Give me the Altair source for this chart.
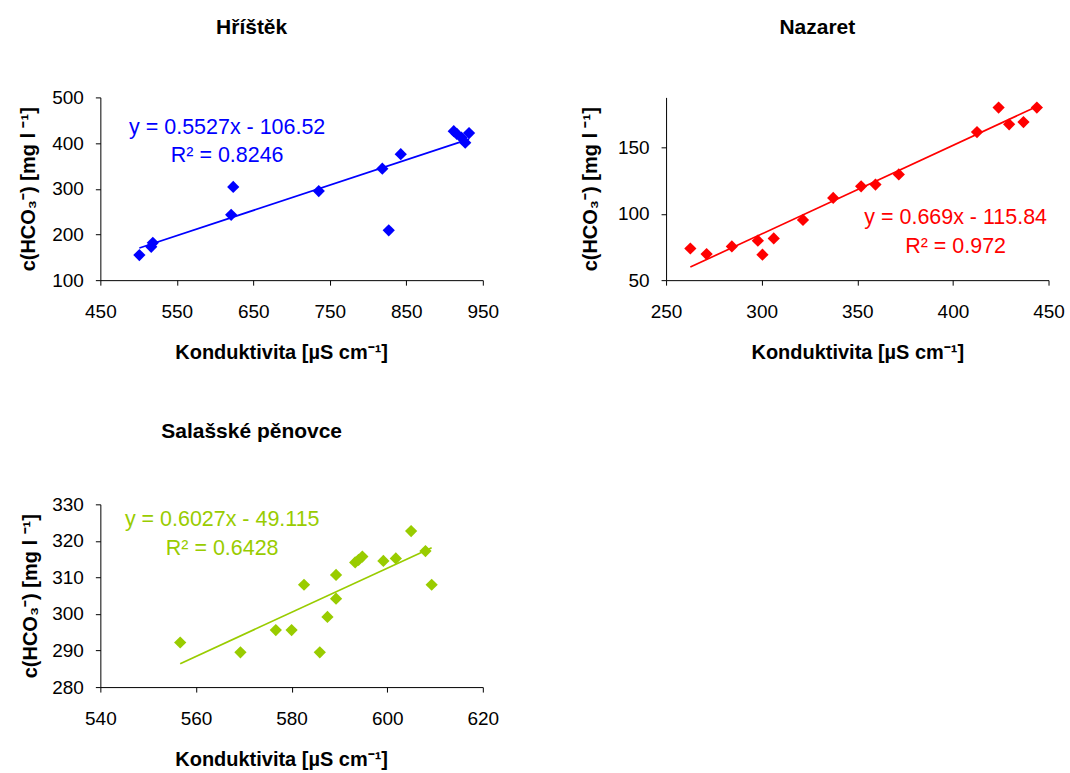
import altair as alt
import pandas as pd

# ---------------- data ----------------
h_x = [501, 516.5, 518.6, 621, 623.7, 735.5, 818.6, 827, 842.7, 912, 916, 922, 927, 932]
h_y = [155, 173, 181.6, 243, 304, 295, 344, 209, 375.7, 426, 420, 412, 401, 422]
h_slope, h_icpt = 0.5527, -106.52
h_eq = "y = 0.5527x - 106.52"
h_r2 = "R² = 0.8246"

n_x = [262.7, 271.2, 284.4, 298, 300.4, 306.3, 321.6, 337.4, 352, 359.5, 371.7, 412.6, 423.9, 429.4, 436.9, 443.9]
n_y = [73.9, 69.7, 75.5, 79.8, 69.2, 81.5, 95.5, 112.1, 120.9, 122.2, 129.8, 161.8, 180.3, 167.7, 169.4, 180.3]
n_slope, n_icpt = 0.669, -115.84
n_eq = "y = 0.669x - 115.84"
n_r2 = "R² = 0.972"

s_x = [556.7, 569.3, 576.7, 580, 582.6, 585.9, 587.5, 589.3, 589.3, 593.3, 594, 594.8, 599.2, 601.8, 605, 608, 609.3]
s_y = [292.2, 289.5, 295.6, 295.6, 308, 289.5, 299.2, 304.2, 310.7, 314.1, 314.8, 315.7, 314.5, 315.2, 322.7, 317.2, 308]
s_slope, s_icpt = 0.6027, -49.115
s_eq = "y = 0.6027x - 49.115"
s_r2 = "R² = 0.6428"

titles = ["Hříštěk", "Nazaret", "Salašské pěnovce"]
x_title = "Konduktivita [µS cm⁻¹]"
y_title = "c(HCO₃⁻) [mg l ⁻¹]"

h_xticks = [450, 550, 650, 750, 850, 950]
h_yticks = [100, 200, 300, 400, 500]
n_xticks = [250, 300, 350, 400, 450]
n_yticks = [50, 100, 150]
s_xticks = [540, 560, 580, 600, 620]
s_yticks = [280, 290, 300, 310, 320, 330]

FONT = "Liberation Sans"
W, H = 383, 183


def panel(xs, ys, slope, icpt, eq, r2, title, color, xdom, ydom, xticks, yticks,
          eqx, eqy, r2y, t_offset, ytitle_x, xtitle_x):
    pts = pd.DataFrame({"x": xs, "y": ys})
    lo, hi = min(xs), max(xs)
    trend = pd.DataFrame({"x": [lo, hi], "y": [slope * lo + icpt, slope * hi + icpt]})
    xsc = alt.Scale(domain=xdom, nice=False, zero=False)
    ysc = alt.Scale(domain=ydom, nice=False, zero=False)
    xax = alt.Axis(values=xticks, title=x_title, labelPadding=32.5, labelBaseline="alphabetic",
                   labelFlush=False, labelOverlap=False, titleBaseline="alphabetic",
                   titleX=xtitle_x, titleY=78.5)
    yax = alt.Axis(values=yticks, title=y_title, labelPadding=12, labelFlush=False,
                   labelOverlap=False, titleBaseline="alphabetic", titleAngle=270,
                   titleX=ytitle_x)
    base_pts = alt.Chart(pts).mark_point(shape="diamond", filled=True, size=150, opacity=1,
                                         color=color).encode(
        x=alt.X("x:Q", scale=xsc, axis=xax),
        y=alt.Y("y:Q", scale=ysc, axis=yax),
    )
    line = alt.Chart(trend).mark_line(color=color, strokeWidth=1.7).encode(
        x=alt.X("x:Q", scale=xsc, axis=xax),
        y=alt.Y("y:Q", scale=ysc, axis=yax),
    )
    txt = pd.DataFrame({"t": [eq, r2], "py": [eqy, r2y]})
    labels = alt.Chart(txt).mark_text(font=FONT, fontSize=21.5, color=color, align="center",
                                      baseline="alphabetic").encode(
        x=alt.value(eqx), y=alt.Y("py:Q", scale=None), text="t:N"
    )
    return alt.layer(line, base_pts, labels).properties(
        width=W, height=H,
        title=alt.TitleParams(title, font=FONT, fontSize=21, fontWeight="bold", color="black",
                              anchor="middle", frame="group", dx=-40, baseline="alphabetic",
                              offset=t_offset),
    )


p1 = panel(h_x, h_y, h_slope, h_icpt, h_eq, h_r2, titles[0], "#0000FF",
           [450, 950], [100, 500], h_xticks, h_yticks, 127, 36.5, 65, 33.5, -66, 181)
p2 = panel(n_x, n_y, n_slope, n_icpt, n_eq, n_r2, titles[1], "#FF0000",
           [250, 450], [50, 188], n_xticks, n_yticks, 290, 127, 156, 42.3, -70, 191.5)
p3 = panel(s_x, s_y, s_slope, s_icpt, s_eq, s_r2, titles[2], "#99CC00",
           [540, 620], [280, 330], s_xticks, s_yticks, 122, 22, 51, 36, -64, 181)

chart = alt.concat(p1, p2, p3, columns=2, spacing={"row": 224.5, "column": 183.5},
                   bounds="flush").configure_view(
    stroke=None
).configure_axis(
    grid=False, domainColor="black", tickColor="black", tickSize=5, domainWidth=1,
    labelFont=FONT, labelFontSize=19, labelColor="black",
    titleFont=FONT, titleFontSize=20, titleFontWeight="bold", titleColor="black",
).properties(background="white", padding={"left": 18.5, "top": 16, "right": 5, "bottom": 5})

chart.save("out.html", embed_options={"renderer": "svg", "actions": False})
